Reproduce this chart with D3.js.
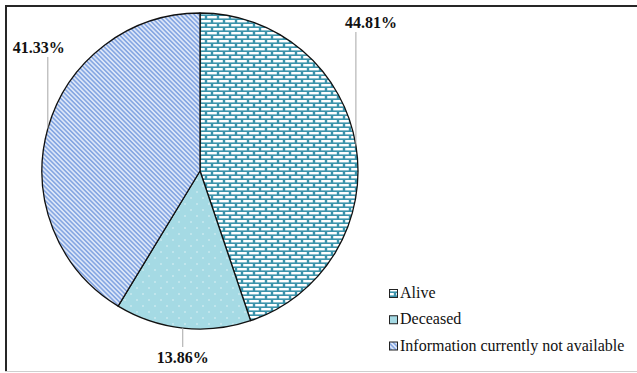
<!DOCTYPE html>
<html>
<head>
<meta charset="utf-8">
<script src="https://cdn.jsdelivr.net/npm/d3@7"></script>
<style>
  html, body { margin: 0; padding: 0; background: #fff; }
  svg { display: block; }
  .serif { font-family: "Liberation Serif", "Times New Roman", Tinos, "DejaVu Serif", serif; }
</style>
</head>
<body>
<svg id="chart" width="637" height="373"></svg>
<script>
// Outcome shares (percent)
const categories = ["Alive", "Deceased", "Information currently not available"];
const shares = [44.81, 13.86, 41.33];
const patternIds = ["pat-brick", "pat-dots", "pat-stripes"];

// Label placement: horizontal offset from leader line, text baseline, leader end
const labelLayout = [
  { dx: 15, baseline: 28, lineEnd: 32 },
  { dx: 0, baseline: 363, lineEnd: 347 },
  { dx: -9, baseline: 53, lineEnd: 57 }
];

const W = 637, H = 373;
const cx = 200, cy = 171, R = 158;

const svg = d3.select("#chart");
const defs = svg.append("defs");

// Brick pattern: white bricks on teal mortar
const brick = defs.append("pattern")
  .attr("id", "pat-brick").attr("patternUnits", "userSpaceOnUse")
  .attr("width", 12).attr("height", 8);
brick.append("rect").attr("width", 12).attr("height", 8).attr("fill", "#3b93ab");
brick.append("rect").attr("x", 1.2).attr("y", 1).attr("width", 9.6).attr("height", 2.4).attr("fill", "#fff");
brick.append("rect").attr("x", -4.8).attr("y", 5).attr("width", 9.6).attr("height", 2.4).attr("fill", "#fff");
brick.append("rect").attr("x", 7.2).attr("y", 5).attr("width", 9.6).attr("height", 2.4).attr("fill", "#fff");

// Dotted pattern: faint white dots on light cyan
const dots = defs.append("pattern")
  .attr("id", "pat-dots").attr("patternUnits", "userSpaceOnUse")
  .attr("width", 12).attr("height", 12);
dots.append("rect").attr("width", 12).attr("height", 12).attr("fill", "#a5dae4");
dots.append("circle").attr("cx", 3).attr("cy", 3).attr("r", 0.8).attr("fill", "#e4f5f8");
dots.append("circle").attr("cx", 9).attr("cy", 9).attr("r", 0.8).attr("fill", "#e4f5f8");

// Diagonal stripes, running down to the right
const stripes = defs.append("pattern")
  .attr("id", "pat-stripes").attr("patternUnits", "userSpaceOnUse")
  .attr("width", 3.2).attr("height", 3.2)
  .attr("patternTransform", "rotate(-45)");
stripes.append("rect").attr("width", 3.2).attr("height", 3.2).attr("fill", "#dce6f8");
stripes.append("rect").attr("x", 0).attr("width", 1.6).attr("height", 3.2).attr("fill", "#86a7e2");

// Frame
svg.append("line").attr("x1", 5).attr("x2", W).attr("y1", 6).attr("y2", 6)
  .attr("stroke", "#262626").attr("stroke-width", 2);
svg.append("line").attr("x1", 6).attr("x2", 6).attr("y1", 5).attr("y2", 371)
  .attr("stroke", "#262626").attr("stroke-width", 2);
svg.append("line").attr("x1", 5).attr("x2", W).attr("y1", 371.5).attr("y2", 371.5)
  .attr("stroke", "#cfcfcf").attr("stroke-width", 1);

const pie = d3.pie().sort(null).value(d => d);
const arcs = pie(shares);
const arc = d3.arc().innerRadius(0).outerRadius(R);

const g = svg.append("g").attr("transform", `translate(${cx},${cy})`);
g.selectAll("path.slice").data(arcs).join("path")
  .attr("class", "slice")
  .attr("d", arc)
  .attr("fill", (d, i) => `url(#${patternIds[i]})`)
  .attr("stroke", "#111")
  .attr("stroke-width", 1.3)
  .attr("stroke-linejoin", "round");

// Leader lines and value labels
const fmt = d3.format(".2f");
arcs.forEach((d, i) => {
  const a = (d.startAngle + d.endAngle) / 2;
  const px = cx + R * Math.sin(a);
  const py = cy - R * Math.cos(a);
  const L = labelLayout[i];
  svg.append("line")
    .attr("x1", px).attr("x2", px)
    .attr("y1", py).attr("y2", L.lineEnd)
    .attr("stroke", "#a6a6a6").attr("stroke-width", 1);
  svg.append("text")
    .attr("class", "serif")
    .attr("x", px + L.dx).attr("y", L.baseline)
    .attr("text-anchor", "middle")
    .attr("font-weight", "bold")
    .attr("font-size", 16).attr("fill", "#111")
    .text(fmt(shares[i]) + "%");
});

// Legend
const legend = svg.append("g").attr("transform", "translate(389,0)");
const rowY = d3.scalePoint().domain(categories).range([298, 350.5]);
categories.forEach((c, i) => {
  const y = rowY(c);
  legend.append("rect")
    .attr("x", 0.5).attr("y", y - 8.5).attr("width", 8).attr("height", 8)
    .attr("fill", `url(#${patternIds[i]})`)
    .attr("stroke", "#222").attr("stroke-width", 1);
  legend.append("text")
    .attr("class", "serif")
    .attr("x", 11).attr("y", y)
    .attr("font-size", 16).attr("fill", "#111")
    .text(c);
});
</script>
</body>
</html>
